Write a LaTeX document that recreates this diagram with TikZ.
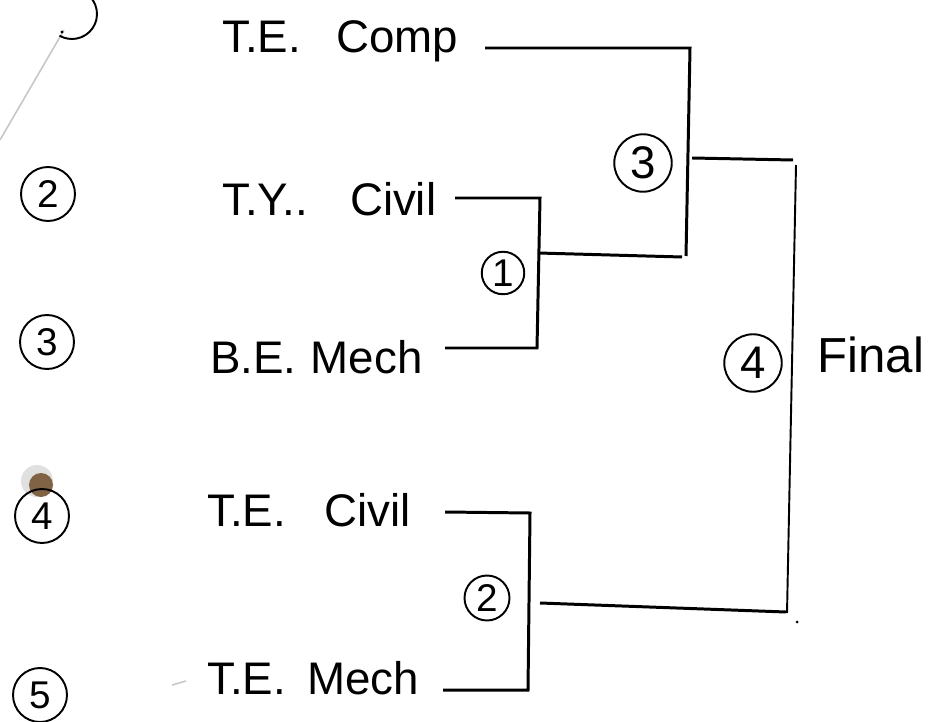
\documentclass[tikz,border=0pt]{standalone}
\usepackage{fontspec}
\setmainfont{Liberation Sans}
\usetikzlibrary{positioning}

\begin{document}
\begin{tikzpicture}[
  x=0.02cm, y=-0.02cm,
  every node/.style={inner sep=0pt},
  team/.style={font=\fontsize{26}{30}\selectfont, anchor=base west},
  rnd/.style={draw, circle, line width=1.1pt, minimum size=#1,
              font=\fontsize{22}{24}\selectfont},
  rnd/.default=1cm,
  seed/.style={rnd=1.08cm, font=\fontsize{22}{24}\selectfont},
  bracket/.style={line width=1.7pt, line join=miter},
  thinline/.style={line width=1.1pt},
  pencil/.style={black!22, line width=0.9pt}
]
\useasboundingbox (0,0) rectangle (935,722);

% --- paper edge and marks ---
\draw[pencil] (64,30) -- (0,140);
\draw[pencil] (172,685) -- (186,681);
\fill[black!12] (37,481) circle[radius=16];
\fill[brown!55!black!85] (41,485) circle[radius=12];

% --- seed numbers (left column) ---
\draw[line width=1.1pt] (72,14) ++(-100:25) arc[start angle=-100, end angle=120, radius=25];
\fill (62,32) circle[radius=1.6];
\node[seed] (s2) at (48,194) {2};
\node[seed] (s3) at (47,342) {3};
\node[seed] (s4) at (42,516) {4};
\node[seed] (s5) at (40,695) {5};

% --- teams ---
\node[team] (tecomp)  at (222,53)  {T.E.\hspace{20pt}Comp};
\node[team] (tycivil) at (222,216) {T.Y..\hspace{24pt}Civil};
\node[team] (bemech)  at (210,373) {B.E.\hspace{8pt}Mech};
\node[team] (tecivil) at (207,526) {T.E.\hspace{22pt}Civil};
\node[team] (temech)  at (207,694) {T.E.\hspace{12pt}Mech};
\node[team, font=\fontsize{28}{32}\selectfont] (final) at (817,372) {Final};

% --- match numbers ---
\node[rnd=0.85cm] (r1) at (503,273) {1};
\node[rnd=0.9cm] (r2) at (487,598) {2};
\node[rnd=1.15cm, font=\fontsize{26}{28}\selectfont] (r3) at (643,163) {3};
\node[rnd=1.15cm, font=\fontsize{26}{28}\selectfont] (r4) at (753,363) {4};

% --- bracket corners ---
\coordinate (tecompE)  at (485,48);
\coordinate (tycivilE) at (455,198);
\coordinate (bemechE)  at (445,348);
\coordinate (tecivilE) at (445,512);
\coordinate (temechE)  at (443,690);
\coordinate (r1top) at (540,198);
\coordinate (r1bot) at (537,348);
\coordinate (r1out) at (538,253);
\coordinate (r2top) at (530,513);
\coordinate (r2bot) at (528,690);
\coordinate (r2out) at (540,603);
\coordinate (r3top) at (690,48);
\coordinate (r3bot) at (686,256);
\coordinate (r3in)  at (682,257);
\coordinate (r3out) at (692,158);
\coordinate (r4mid) at (793,160);
\coordinate (r4top) at (796,165);
\coordinate (r4bot) at (787,613);
\coordinate (r4in)  at (786,612);

% --- round 1 and 2 ---
\draw[bracket] (tycivilE) -- (r1top) -- (r1bot) -- (bemechE);
\draw[bracket] (tecivilE) -- (r2top) -- (r2bot) -- (temechE);

% --- round 3 ---
\draw[bracket] (tecompE) -- (r3top) -- (r3bot);
\draw[bracket] (r1out) -- (r3in);

% --- final ---
\draw[bracket] (r3out) -- (r4mid);
\draw[thinline] (r4top) -- (r4bot);
\draw[bracket] (r2out) -- (r4in);
\fill (797,622) circle[radius=1.5];

\end{tikzpicture}
\end{document}
